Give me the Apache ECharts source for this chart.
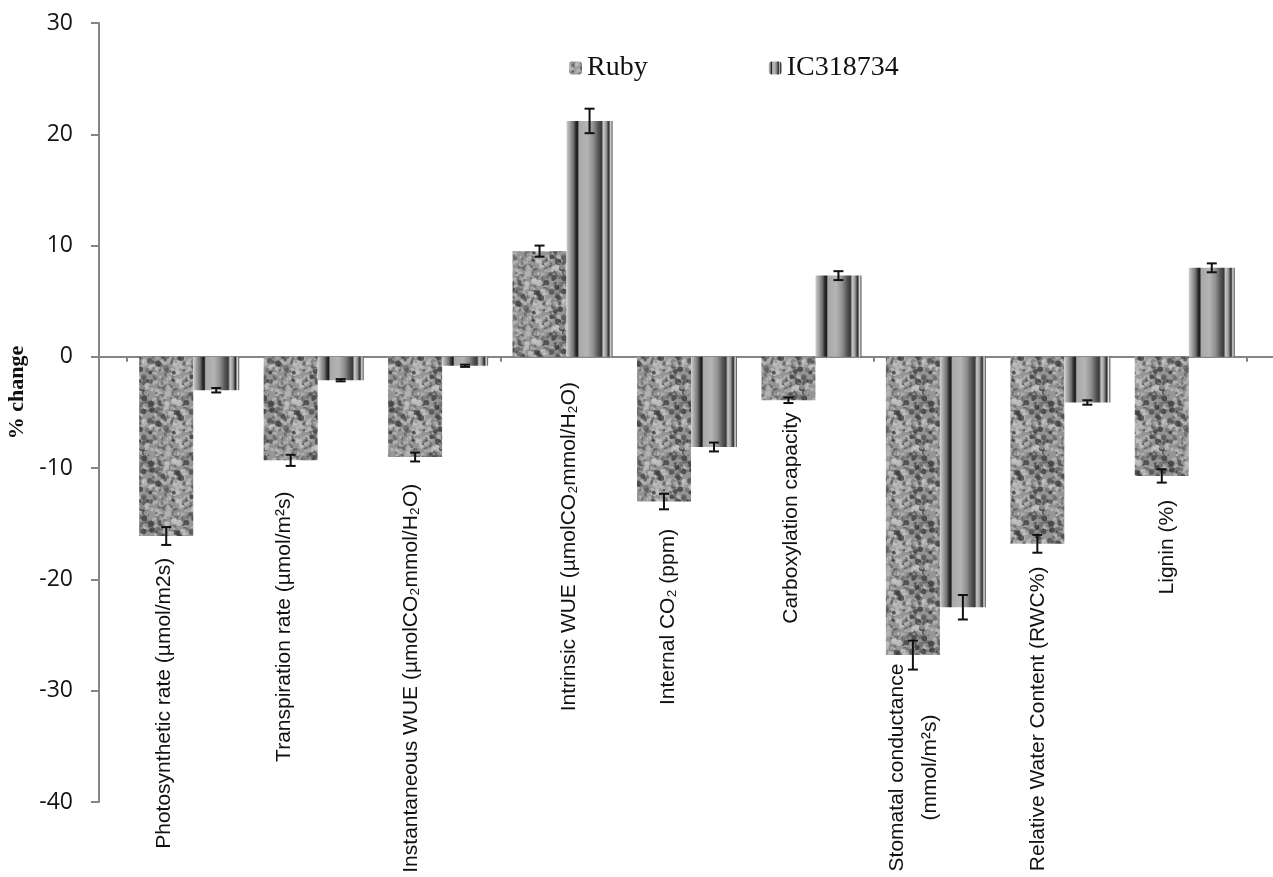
<!DOCTYPE html>
<html>
<head>
<meta charset="utf-8">
<script src="https://cdn.jsdelivr.net/npm/echarts@6/dist/echarts.min.js"></script>
<style>
html, body { margin: 0; padding: 0; background: #fff; }
#main { width: 1273px; height: 877px; }
</style>
</head>
<body>
<div id="main"></div>
<script>
// 类别与数据（% change）
var categories = [
	'Photosynthetic rate (µmol/m2s)',
	'Transpiration rate (µmol/m²s)',
	'Instantaneous WUE (µmolCO₂mmol/H₂O)',
	'Intrinsic WUE (µmolCO₂mmol/H₂O)',
	'Internal CO₂ (ppm)',
	'Carboxylation capacity',
	'Stomatal conductance\n(mmol/m²s)',
	'Relative Water Content (RWC%)',
	'Lignin (%)'
];
var rubyValues = [-16.1, -9.3, -9.0, 9.5, -13.0, -3.9, -26.8, -16.8, -10.7];
var rubyErrors = [0.8, 0.5, 0.4, 0.5, 0.7, 0.25, 1.3, 0.8, 0.6];
var icValues = [-3.0, -2.1, -0.8, 21.2, -8.1, 7.3, -22.5, -4.1, 8.0];
var icErrors = [0.2, 0.1, 0.1, 1.1, 0.4, 0.4, 1.1, 0.2, 0.4];
var yTicks = { min: -40, max: 30, interval: 10 };

// 标签位置（y 为数据坐标，dx 为像素偏移）
var labelLayout = [
	{ dx: -25, y: -18.05, align: 'right' },
	{ dx: -29, y: -12.1, align: 'right' },
	{ dx: -27, y: -11.4, align: 'right' },
	{ dx: 7, y: -2.25, align: 'right' },
	{ dx: -19, y: -15.45, align: 'right' },
	{ dx: -20, y: -5.0, align: 'right' },
	{ dx: -22, y: -36.9, align: 'center' },
	{ dx: -22, y: -18.85, align: 'right' },
	{ dx: -18, y: -12.85, align: 'right' }
];

var rubyW = 54, icW = 46;
var rubyOff = -(rubyW + icW) / 2 + rubyW / 2;
var icOff = -(rubyW + icW) / 2 + rubyW + icW / 2;

// 花岗岩纹理
function makeGranite() {
	var n = 60;
	var c = document.createElement('canvas');
	c.width = n; c.height = n;
	var ctx = c.getContext('2d');
	ctx.fillStyle = '#959595';
	ctx.fillRect(0, 0, n, n);
	ctx.filter = 'blur(0.7px)';
	var seed = 12345;
	function rnd() { seed = (seed * 16807) % 2147483647; return seed / 2147483647; }
	for (var i = 0; i < 340; i++) {
		var x = rnd() * n, y = rnd() * n, r = 0.9 + rnd() * 2.3, t = rnd();
		ctx.fillStyle = t < 0.42 ? 'rgba(75,75,75,0.5)' : (t < 0.9 ? 'rgba(205,205,205,0.5)' : 'rgba(40,40,40,0.65)');
		for (var ox = -n; ox <= n; ox += n) {
			for (var oy = -n; oy <= n; oy += n) {
				ctx.beginPath();
				ctx.arc(x + ox, y + oy, r, 0, Math.PI * 2);
				ctx.fill();
			}
		}
	}
	return c;
}

var stripe = {
	type: 'linear', x: 0, y: 0, x2: 1, y2: 0,
	colorStops: [
		{ offset: 0.00, color: '#d0d0d0' },
		{ offset: 0.05, color: '#b0b0b0' },
		{ offset: 0.15, color: '#707070' },
		{ offset: 0.20, color: '#303030' },
		{ offset: 0.24, color: '#1a1a1a' },
		{ offset: 0.27, color: '#a8a8a8' },
		{ offset: 0.45, color: '#b4b4b4' },
		{ offset: 0.58, color: '#909090' },
		{ offset: 0.70, color: '#505050' },
		{ offset: 0.76, color: '#3a3a3a' },
		{ offset: 0.80, color: '#c8c8c8' },
		{ offset: 0.86, color: '#9a9a9a' },
		{ offset: 0.92, color: '#2a2a2a' },
		{ offset: 0.96, color: '#e0e0e0' },
		{ offset: 1.00, color: '#404040' }
	]
};

function errorRender(offset) {
	return function (params, api) {
		var c = api.value(0), v = api.value(1), e = api.value(2);
		var hi = api.coord([c, v + e]);
		var lo = api.coord([c, v - e]);
		var x = hi[0] + offset, cap = 5;
		var st = { stroke: '#111', lineWidth: 2 };
		return {
			type: 'group',
			children: [
				{ type: 'line', shape: { x1: x, y1: hi[1], x2: x, y2: lo[1] }, style: st },
				{ type: 'line', shape: { x1: x - cap, y1: hi[1], x2: x + cap, y2: hi[1] }, style: st },
				{ type: 'line', shape: { x1: x - cap, y1: lo[1], x2: x + cap, y2: lo[1] }, style: st }
			]
		};
	};
}

function initChart() {
	var myChart = echarts.init(document.getElementById('main'));
	var granite = { image: makeGranite(), repeat: 'repeat' };
	var gridTop = 23, gridBottom = 75;

	var option = {
		backgroundColor: '#fff',
		animation: false,
		legend: {
			data: ['Ruby', 'IC318734'],
			left: 564,
			top: 49,
			itemWidth: 13,
			itemHeight: 13,
			itemGap: 121,
			textStyle: { fontFamily: '"Liberation Serif", serif', fontSize: 28, color: '#111' }
		},
		grid: [
			{ left: 99, right: 0, top: gridTop, bottom: gridBottom, containLabel: false, outerBoundsMode: 'none' },
			{ left: 127, right: 26, top: gridTop, bottom: gridBottom, containLabel: false, outerBoundsMode: 'none' }
		],
		xAxis: [{
			type: 'value', gridIndex: 0, min: 0, max: 1,
			axisLine: { show: true, onZero: true, lineStyle: { color: '#858585', width: 2 } },
			axisTick: { show: false },
			axisLabel: { show: false },
			splitLine: { show: false }
		}, {
			type: 'category', gridIndex: 1, data: categories,
			axisLine: { show: true, onZero: true, lineStyle: { color: '#858585', width: 2 } },
			axisTick: { show: true, inside: false, length: 5, lineStyle: { color: '#858585', width: 2 } },
			axisLabel: { show: false },
			splitLine: { show: false }
		}],
		yAxis: [{
			type: 'value', gridIndex: 0,
			min: yTicks.min, max: yTicks.max, interval: yTicks.interval,
			name: '% change',
			nameLocation: 'middle',
			nameGap: 66,
			nameRotate: 90,
			nameTextStyle: {
				fontFamily: '"Liberation Serif", serif', fontWeight: 'bold', fontSize: 22, color: '#111',
				padding: [0, 0, 0, 40]
			},
			axisLine: { show: true, lineStyle: { color: '#858585', width: 2 } },
			axisTick: { show: true, length: 8, lineStyle: { color: '#858585', width: 2 } },
			axisLabel: { margin: 26, fontFamily: '"Open Sans", sans-serif', fontSize: 23, color: '#141414' },
			splitLine: { show: false }
		}, {
			type: 'value', gridIndex: 1,
			min: yTicks.min, max: yTicks.max, interval: yTicks.interval,
			show: false
		}],
		series: [{
			name: 'Ruby',
			type: 'bar',
			xAxisIndex: 1, yAxisIndex: 1,
			barWidth: rubyW,
			barGap: '0%',
			itemStyle: { color: granite },
			data: rubyValues
		}, {
			name: 'IC318734',
			type: 'bar',
			xAxisIndex: 1, yAxisIndex: 1,
			barWidth: icW,
			barGap: '0%',
			itemStyle: { color: stripe },
			data: icValues
		}, {
			name: 'Ruby err',
			type: 'custom',
			xAxisIndex: 1, yAxisIndex: 1,
			z: 5,
			renderItem: errorRender(rubyOff),
			data: rubyValues.map(function (v, i) { return [i, v, rubyErrors[i]]; })
		}, {
			name: 'IC err',
			type: 'custom',
			xAxisIndex: 1, yAxisIndex: 1,
			z: 5,
			renderItem: errorRender(icOff),
			data: icValues.map(function (v, i) { return [i, v, icErrors[i]]; })
		}, {
			name: 'labels',
			type: 'custom',
			xAxisIndex: 1, yAxisIndex: 1,
			clip: false,
			silent: true,
			renderItem: function (params, api) {
				var i = api.value(0);
				var p = api.coord([i, api.value(1)]);
				var lay = labelLayout[i];
				return {
					type: 'text',
					x: p[0] + lay.dx,
					y: p[1],
					rotation: Math.PI / 2,
					style: {
						text: categories[i],
						fill: '#111',
						font: '21px "Liberation Sans", Arial, sans-serif',
						align: lay.align,
						verticalAlign: 'middle',
						lineHeight: 33
					}
				};
			},
			data: labelLayout.map(function (l, i) { return [i, l.y]; })
		}]
	};
	myChart.setOption(option);
}
initChart();
</script>
</body>
</html>
